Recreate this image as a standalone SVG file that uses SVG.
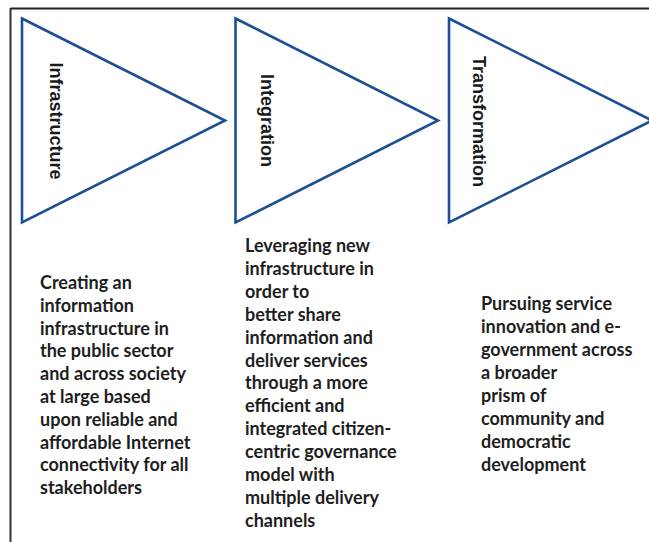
<svg xmlns="http://www.w3.org/2000/svg" width="649" height="542" viewBox="0 0 649 542">
<style>
.tri{fill:#fff;stroke:#1d4f94;stroke-width:2.6;stroke-linejoin:miter}
.lbl{font-family:"Liberation Sans",Arial,sans-serif;font-weight:bold;font-size:18px;fill:#1a1a1a;text-anchor:middle}
.body{font-family:Lato,"Liberation Sans",sans-serif;font-weight:bold;font-size:18px;fill:#1e1e1e}
</style>
<rect x="0" y="0" width="649" height="542" fill="#fff"/>
<g id="frame">
<line x1="10.5" y1="8.5" x2="649" y2="8.5" stroke="#222" stroke-width="2"/>
<line x1="10.5" y1="8" x2="10.5" y2="542" stroke="#333" stroke-width="2"/>
</g>
<g id="infrastructure">
<polygon class="tri" points="22,18.5 225,120.5 22,222.5"/>
<text class="lbl" transform="translate(50,121) rotate(90)">Infrastructure</text>
<text class="body" x="40"><tspan x="40" y="289">Creating an</tspan><tspan x="40" y="311.8">information</tspan><tspan x="40" y="334.6">infrastructure in</tspan><tspan x="40" y="357.4">the public sector</tspan><tspan x="40" y="380.2">and across society</tspan><tspan x="40" y="403">at large based</tspan><tspan x="40" y="425.8">upon reliable and</tspan><tspan x="40" y="448.6">affordable Internet</tspan><tspan x="40" y="471.4">connectivity for all</tspan><tspan x="40" y="494.2">stakeholders</tspan></text>
</g>
<g id="integration">
<polygon class="tri" points="235.5,18.5 438,120.5 235.5,222.5"/>
<text class="lbl" transform="translate(261,120.5) rotate(90)">Integration</text>
<text class="body"><tspan x="245" y="252">Leveraging new</tspan><tspan x="245" y="274.9">infrastructure in</tspan><tspan x="245" y="297.8">order to</tspan><tspan x="245" y="320.7">better share</tspan><tspan x="245" y="343.6">information and</tspan><tspan x="245" y="366.5">deliver services</tspan><tspan x="245" y="389.4">through a more</tspan><tspan x="245" y="412.3">efficient and</tspan><tspan x="245" y="435.2">integrated citizen-</tspan><tspan x="245" y="458.1">centric governance</tspan><tspan x="245" y="481">model with</tspan><tspan x="245" y="503.9">multiple delivery</tspan><tspan x="245" y="526.8">channels</tspan></text>
</g>
<g id="transformation">
<polygon class="tri" points="449,18.5 652,120.5 449,222.5"/>
<text class="lbl" transform="translate(472.5,121.5) rotate(90)">Transformation</text>
<text class="body"><tspan x="481" y="310">Pursuing service</tspan><tspan x="481" y="333">innovation and e-</tspan><tspan x="481" y="356">government across</tspan><tspan x="481" y="379">a broader</tspan><tspan x="481" y="402">prism of</tspan><tspan x="481" y="425">community and</tspan><tspan x="481" y="448">democratic</tspan><tspan x="481" y="471">development</tspan></text>
</g>
<g id="connectors"></g>
</svg>
